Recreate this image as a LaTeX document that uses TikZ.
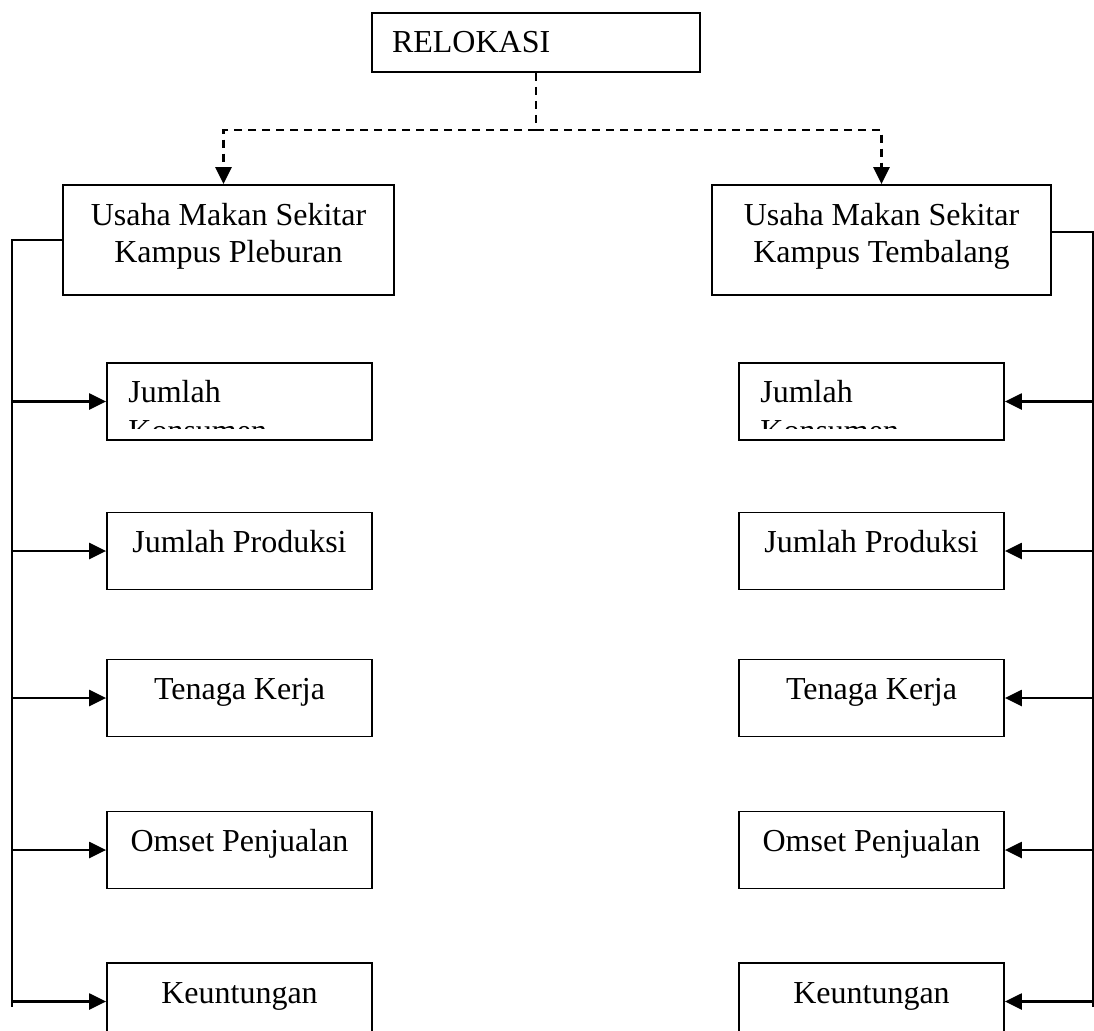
\documentclass[tikz,border=0pt]{standalone}
\usepackage{fontspec}
\setmainfont{Liberation Serif}
\usetikzlibrary{arrows.meta}
\newcommand{\tanpapotong}{\hyphenpenalty10000\relax}

\begin{document}
\begin{tikzpicture}[x=0.5pt,y=-0.5pt,>={Triangle[length=8.5pt,width=8pt]},
  font=\fontsize{16}{18.5}\selectfont,
  kotak/.style={draw,line width=0.9pt,inner sep=0pt},
  induk/.style={kotak,minimum height=55pt,align=center,text depth=7.5pt},
  kecil/.style={kotak,minimum width=132.5pt,minimum height=38.5pt,text height=0.6em,text depth=0.45em},
  terpotong/.style={anchor=base west,text width=100pt,align=left,inner sep=0pt,font={\fontsize{16}{19.5}\selectfont\tanpapotong}},
  garis/.style={line width=1.2pt},
  putus/.style={line width=1.2pt,dash pattern=on 4pt off 3pt}]
\clip (0,0) rectangle (1094,1030);
%%
\node (relokasi) at (536,42.5) [kotak,minimum width=164pt,minimum height=29.5pt,text width=144pt,align=left] {RELOKASI};
  \node (pleburan) at (228.5,240) [induk,minimum width=165.5pt] {Usaha Makan Sekitar\\Kampus Pleburan};
  \node (tembalang) at (881.5,240) [induk,minimum width=169.5pt] {Usaha Makan Sekitar\\Kampus Tembalang};
  \coordinate (cabang) at (536,130);
  \coordinate (kiri) at (12,1007);
  \coordinate (kanan) at (1093,1007);
%
  \node (pk1) at (239.5,401.5) [kecil] {};
  \node (pk2) at (239.5,551) [kecil] {Jumlah Produksi};
  \node (pk3) at (239.5,698) [kecil] {Tenaga Kerja};
  \node (pk4) at (239.5,850) [kecil] {Omset Penjualan};
  \node (pk5) at (239.5,1001.5) [kecil] {Keuntungan};
  \node (tk1) at (871.5,401.5) [kecil] {};
  \node (tk2) at (871.5,551) [kecil] {Jumlah Produksi};
  \node (tk3) at (871.5,698) [kecil] {Tenaga Kerja};
  \node (tk4) at (871.5,850) [kecil] {Omset Penjualan};
  \node (tk5) at (871.5,1001.5) [kecil] {Keuntungan};
%
\begin{scope}
  \clip (pk1.north west) rectangle (372,428);
  \node (pk1teks) at (128,402) [terpotong] {Jumlah Konsumen};
\end{scope}
\begin{scope}
  \clip (tk1.north west) rectangle (1004,428);
  \node (tk1teks) at (760,402) [terpotong] {Jumlah Konsumen};
\end{scope}
%
  \draw [putus] (relokasi) -- (cabang);
  \draw [putus,->] (cabang) -| ([xshift=-2.5pt]pleburan.north);
  \draw [putus,->] (cabang) -| (tembalang.north);
  \draw [garis] (pleburan.west) -| (kiri);
  \draw [garis] ([yshift=4pt]tembalang.east) -| (kanan);
  \draw [garis,->] (kiri |- pk1.west) -- (pk1.west);
  \draw [garis,->] (kiri |- pk2.west) -- (pk2.west);
  \draw [garis,->] (kiri |- pk3.west) -- (pk3.west);
  \draw [garis,->] (kiri |- pk4.west) -- (pk4.west);
  \draw [garis,->] (kiri |- pk5.west) -- (pk5.west);
  \draw [garis,->] (kanan |- tk1.east) -- (tk1.east);
  \draw [garis,->] (kanan |- tk2.east) -- (tk2.east);
  \draw [garis,->] (kanan |- tk3.east) -- (tk3.east);
  \draw [garis,->] (kanan |- tk4.east) -- (tk4.east);
  \draw [garis,->] (kanan |- tk5.east) -- (tk5.east);
%
\end{tikzpicture}
\end{document}
